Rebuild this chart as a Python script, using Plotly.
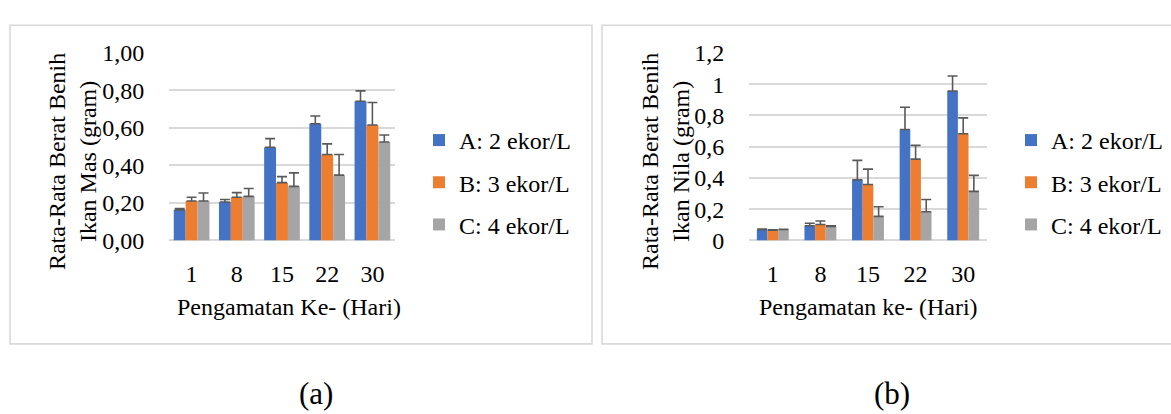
import plotly.graph_objects as go

W, H = 1171, 414

days = ["1", "8", "15", "22", "30"]
series_names = ["A: 2 ekor/L", "B: 3 ekor/L", "C: 4 ekor/L"]
colors = ["#4472C4", "#ED7D31", "#A5A5A5"]

# (a) Ikan Mas
mas_A = [0.163, 0.205, 0.497, 0.622, 0.742]
mas_B = [0.210, 0.230, 0.308, 0.458, 0.615]
mas_C = [0.210, 0.235, 0.288, 0.348, 0.525]
mas_A_sd = [0.007, 0.013, 0.046, 0.041, 0.055]
mas_B_sd = [0.020, 0.025, 0.032, 0.057, 0.120]
mas_C_sd = [0.043, 0.042, 0.072, 0.110, 0.037]

# (b) Ikan Nila
nila_A = [0.070, 0.094, 0.388, 0.710, 0.956]
nila_B = [0.066, 0.102, 0.358, 0.520, 0.682]
nila_C = [0.070, 0.090, 0.154, 0.184, 0.314]
nila_A_sd = [0.003, 0.016, 0.124, 0.142, 0.096]
nila_B_sd = [0.002, 0.022, 0.098, 0.088, 0.102]
nila_C_sd = [0.002, 0.004, 0.062, 0.078, 0.102]

FONT = "Liberation Serif"
FS = 24

def px(x):
    return x / W

def py(y):
    return 1 - y / H

fig = go.Figure()

left_sets = [(mas_A, mas_A_sd), (mas_B, mas_B_sd), (mas_C, mas_C_sd)]
right_sets = [(nila_A, nila_A_sd), (nila_B, nila_B_sd), (nila_C, nila_C_sd)]

for i, (vals, sd) in enumerate(left_sets):
    fig.add_trace(go.Bar(
        x=days, y=vals, name=series_names[i], marker_color=colors[i],
        marker_line_width=0,
        error_y=dict(type="data", array=sd, arrayminus=[0] * len(sd), symmetric=False,
                     color="#595959", thickness=1.6, width=5),
        xaxis="x", yaxis="y", legend="legend", legendgroup="L%d" % i,
    ))
for i, (vals, sd) in enumerate(right_sets):
    fig.add_trace(go.Bar(
        x=days, y=vals, name=series_names[i], marker_color=colors[i],
        marker_line_width=0,
        error_y=dict(type="data", array=sd, arrayminus=[0] * len(sd), symmetric=False,
                     color="#595959", thickness=1.6, width=5),
        xaxis="x2", yaxis="y2", legend="legend2", legendgroup="R%d" % i,
    ))

grid = "#D9D9D9"
common_x = dict(type="category", showgrid=False, zeroline=False, showline=False,
                ticks="outside", ticklen=12, tickcolor="rgba(0,0,0,0)",
                tickfont=dict(family=FONT, size=FS, color="#000000"))
common_y = dict(showgrid=True, gridcolor=grid, gridwidth=1.6, zeroline=True,
                zerolinecolor=grid, zerolinewidth=1.6, showline=False,
                ticks="outside", ticklen=19, tickcolor="rgba(0,0,0,0)",
                tickfont=dict(family=FONT, size=FS, color="#000000"))

fig.update_layout(
    width=W, height=H,
    margin=dict(l=0, r=0, t=0, b=0),
    paper_bgcolor="white", plot_bgcolor="white",
    separators=",.",
    barmode="group",
    font=dict(family=FONT, size=FS, color="#000000"),
    xaxis=dict(domain=[px(169), px(395)], anchor="y", **common_x),
    yaxis=dict(domain=[py(242.7), py(42.5)], anchor="x", range=[0, 1.0], dtick=0.2,
               tickformat=".2f", **common_y),
    xaxis2=dict(domain=[px(749), px(987)], anchor="y2", **common_x),
    yaxis2=dict(domain=[py(242.7), py(42.5)], anchor="x2", range=[0, 1.2], dtick=0.2,
                **common_y),
    legend=dict(x=px(419), y=py(112), xanchor="left", yanchor="top",
                tracegroupgap=8, bgcolor="rgba(0,0,0,0)",
                font=dict(family=FONT, size=FS, color="#000000")),
    legend2=dict(x=px(1011), y=py(112), xanchor="left", yanchor="top",
                 tracegroupgap=8, bgcolor="rgba(0,0,0,0)",
                 font=dict(family=FONT, size=FS, color="#000000")),
    showlegend=True,
)
fig.update_layout(bargap=0.21)

# right subplot has narrower bar groups
n = 3
for k, tr in enumerate(fig.data):
    if k >= 3:
        grp = 0.67
        w = grp / n
        tr.width = w
        tr.offset = -grp / 2 + (k - 3) * w

# chart borders
fig.add_shape(type="rect", xref="paper", yref="paper",
              x0=px(10), x1=px(592), y0=py(353), y1=py(13),
              line=dict(color=grid, width=1.6), fillcolor="rgba(0,0,0,0)", layer="below")
fig.add_shape(type="rect", xref="paper", yref="paper",
              x0=px(602), x1=px(1180), y0=py(353), y1=py(13),
              line=dict(color=grid, width=1.6), fillcolor="rgba(0,0,0,0)", layer="below")

ann = []
ann.append(dict(text="Rata-Rata Berat Benih<br>Ikan Mas (gram)", x=px(72.5), y=py(158.5),
                textangle=-90))
ann.append(dict(text="Rata-Rata Berat Benih<br>Ikan Nila (gram)", x=px(665), y=py(159),
                textangle=-90))
ann.append(dict(text="Pengamatan Ke- (Hari)", x=px(288.5), y=py(314)))
ann.append(dict(text="Pengamatan ke- (Hari)", x=px(868), y=py(314)))
for a in ann:
    a.update(xref="paper", yref="paper", xanchor="center", yanchor="middle",
             showarrow=False, font=dict(family=FONT, size=FS, color="#000000"))
    fig.add_annotation(**a)

fig.add_annotation(text="(a)", x=px(316), y=py(406), xref="paper", yref="paper",
                   showarrow=False, xanchor="center", yanchor="middle",
                   font=dict(family=FONT, size=31, color="#000000"))
fig.add_annotation(text="(b)", x=px(892), y=py(406), xref="paper", yref="paper",
                   showarrow=False, xanchor="center", yanchor="middle",
                   font=dict(family=FONT, size=31, color="#000000"))

fig.write_html("out.html")
